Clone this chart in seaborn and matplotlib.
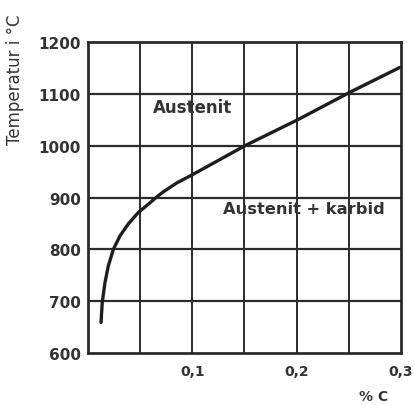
import pandas as pd
import matplotlib.pyplot as plt
import seaborn as sns

# curve (carbon % vs temperature)
carbon = [0.0125, 0.0137, 0.0163, 0.0195, 0.0243, 0.0307, 0.0386, 0.0482,
          0.0578, 0.0658, 0.0722, 0.085, 0.101, 0.1505, 0.201, 0.251, 0.299]
temp = [659, 698, 736, 768, 800, 826, 849, 871,
        887, 901, 911, 928, 945, 1000, 1050, 1103, 1151]

x_ticks = [0.1, 0.2, 0.3]
x_labels = ["0,1", "0,2", "0,3"]
y_ticks = [600, 700, 800, 900, 1000, 1100, 1200]

df = pd.DataFrame({"carbon": carbon, "temp": temp})

sns.set_style("white")
ink = "#2b2b2b"
txt = "#333333"

fig = plt.figure(figsize=(4.15, 4.06), dpi=100)
ax = fig.add_axes([0.212, 0.128, 0.754, 0.766])

sns.lineplot(data=df, x="carbon", y="temp", color="#1e1e1e", linewidth=2.4, ax=ax)
ax.lines[0].set_solid_joinstyle("round")

ax.set_xlim(0, 0.3)
ax.set_ylim(600, 1200)

# grid every 0.05 % C and 100 degrees
for gx in [0.05, 0.1, 0.15, 0.2, 0.25]:
    ax.axvline(gx, color=ink, linewidth=1.4, zorder=0)
for gy in y_ticks[1:-1]:
    ax.axhline(gy, color=ink, linewidth=1.6, zorder=0)

for side in ax.spines.values():
    side.set_color(ink)
    side.set_linewidth(2)

ax.set_xticks(x_ticks)
ax.set_xticklabels(x_labels, fontsize=10, fontweight="bold", color=txt)
ax.set_yticks(y_ticks)
ax.set_yticklabels([str(v) for v in y_ticks], fontsize=11, fontweight="bold", color=txt)
ax.tick_params(axis="both", length=0)
ax.tick_params(axis="y", pad=5)
ax.tick_params(axis="x", pad=8)

ax.set_xlabel("")
ax.set_ylabel("Temperatur i °C", fontsize=12, color=txt)
ax.yaxis.set_label_coords(-0.204, 0.881)

ax.text(0.2875, 517, "% C", fontsize=10, fontweight="bold", color=txt,
        ha="right", va="center", clip_on=False)

ax.text(0.062, 1075, "Austenit", fontsize=12, fontweight="bold", color=txt,
        ha="left", va="center")
ax.text(0.129, 878, "Austenit + karbid", fontsize=11.7, fontweight="bold", color=txt,
        ha="left", va="center")

fig.savefig("out.png", dpi=100, facecolor="white")
